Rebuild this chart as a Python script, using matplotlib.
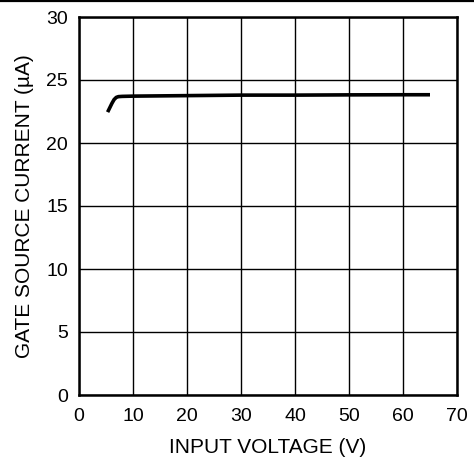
import matplotlib
matplotlib.use("Agg")
import matplotlib.pyplot as plt
from matplotlib.lines import Line2D

plt.rcParams['font.family'] = ['Liberation Sans', 'DejaVu Sans']

# data
input_voltage = [5.3, 5.7, 6.1, 6.5, 6.9, 7.3, 8.0, 10, 20, 30, 40, 50, 60, 65]
gate_current = [22.45, 22.8, 23.15, 23.45, 23.62, 23.68, 23.7, 23.72, 23.76, 23.8, 23.8, 23.82, 23.83, 23.83]

x_ticks = [0, 10, 20, 30, 40, 50, 60, 70]
y_ticks = [0, 5, 10, 15, 20, 25, 30]

fig = plt.figure(figsize=(4.74, 4.61), dpi=100)
axes = fig.add_axes([79 / 474, 66 / 461, 378 / 474, 378 / 461])

axes.plot(input_voltage, gate_current, color='black', linewidth=2.6,
          solid_capstyle='butt')

axes.set_xlim(0, 70)
axes.set_ylim(0, 30)
axes.set_xticks(x_ticks)
axes.set_yticks(y_ticks)
axes.grid(True, color='black', linewidth=1.0)
axes.tick_params(axis='x', length=0, labelsize=14, pad=9)
axes.tick_params(axis='y', length=0, labelsize=14, pad=8)
for spine in axes.spines.values():
    spine.set_linewidth(1.8)

axes.set_xlabel("INPUT VOLTAGE (V)", fontsize=15, labelpad=10)
axes.set_ylabel("GATE SOURCE CURRENT (\u00b5A)", fontsize=15, labelpad=9)

# rule along the top of the figure
fig.add_artist(Line2D([0, 1], [1 - 1.5 / 461, 1 - 1.5 / 461],
                      transform=fig.transFigure, color='black', linewidth=1.6))

fig.savefig("out.png", dpi=100)
